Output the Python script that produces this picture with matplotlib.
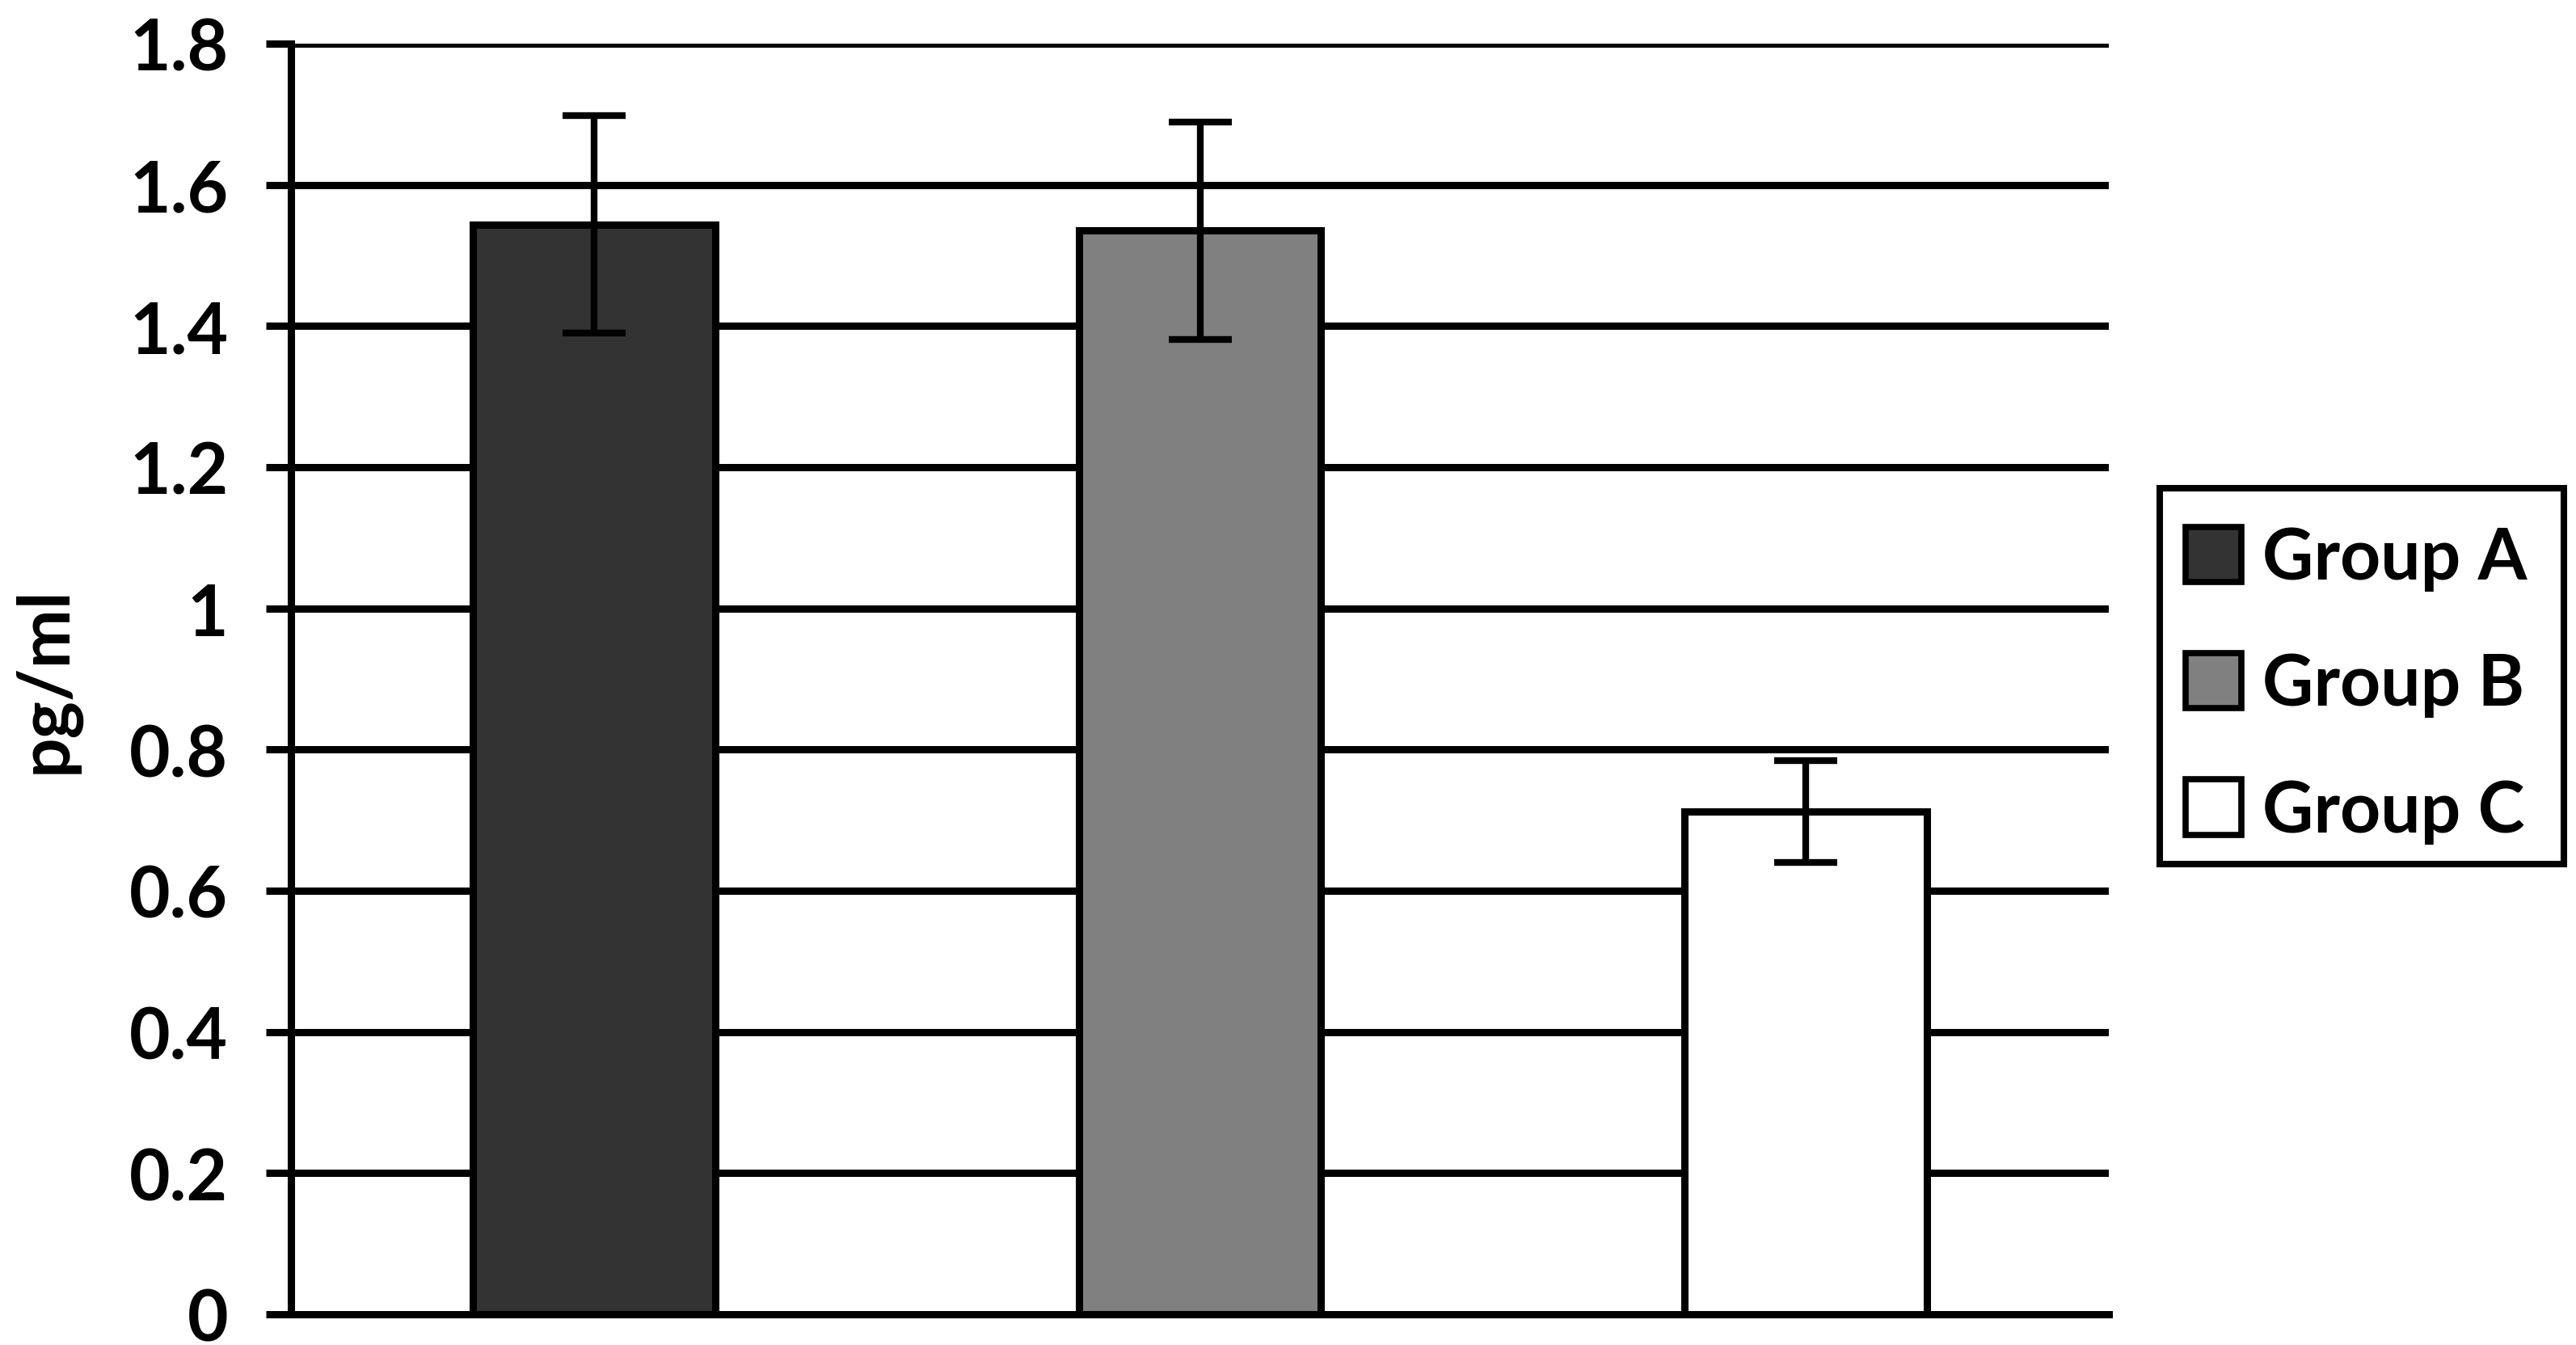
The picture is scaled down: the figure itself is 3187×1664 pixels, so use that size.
import matplotlib
matplotlib.use("Agg")
import matplotlib.pyplot as plt
from matplotlib.patches import Patch, Rectangle

groups = ["Group A", "Group B", "Group C"]
values = [1.544, 1.535, 0.712]
errors = [0.154, 0.154, 0.072]
colors = ["#333333", "#808080", "#ffffff"]
yticks = [0, 0.2, 0.4, 0.6, 0.8, 1.0, 1.2, 1.4, 1.6, 1.8]
ytick_labels = ["0", "0.2", "0.4", "0.6", "0.8", "1", "1.2", "1.4", "1.6", "1.8"]
ylabel = "pg/ml"

FONT = ["Lato", "DejaVu Sans"]
plt.rcParams["font.family"] = FONT
plt.rcParams["font.weight"] = "bold"

W, H = 3187, 1665
fig = plt.figure(figsize=(W / 100, H / 100), dpi=100)
left, right, bottom, top = 360 / W, 2609 / W, 1 - 1627 / H, 1 - 55 / H
ax = fig.add_axes([left, bottom, right - left, top - bottom])

LW = 6.5
x = range(len(groups))
ax.bar(x, values, width=0.4, color=colors, edgecolor="black", linewidth=LW, zorder=2)
ax.errorbar(x, values, yerr=errors, fmt="none", ecolor="black", elinewidth=6,
            capsize=28, capthick=6, zorder=3)

ax.set_xlim(-0.5, 2.5)
ax.set_ylim(0, 1.8)
ax.set_yticks(yticks)
ax.set_yticklabels(ytick_labels, fontsize=63, fontweight="bold")
ax.set_xticks([])
for y in yticks[1:]:
    ax.axhline(y, color="black", linewidth=LW, zorder=1, solid_capstyle="butt")

for s in ["top", "right"]:
    ax.spines[s].set_visible(False)
ax.spines["left"].set_linewidth(LW)
ax.spines["bottom"].set_linewidth(LW)
ax.spines["left"].set_zorder(4)
ax.tick_params(axis="y", length=22, width=LW, pad=34, direction="out")
ax.tick_params(axis="x", length=0)

fig.text(99 / W, 1 - 841 / H, ylabel, rotation=90, ha="right", va="center",
         fontsize=63, fontweight="bold")

# legend frame
fig.patches.append(Rectangle((2672 / W, 1 - 1070 / H), 500 / W, 465 / H,
                             transform=fig.transFigure, facecolor="white",
                             edgecolor="black", linewidth=5.8, zorder=5))
handles = [Patch(facecolor=c, edgecolor="black", linewidth=5.5, label=g)
           for g, c in zip(groups, colors)]
leg = fig.legend(handles=handles, loc="center left",
                 bbox_to_anchor=(2704 / W, 1 - 848 / H),
                 prop={"family": FONT, "weight": "bold", "size": 63},
                 frameon=False,
                 handlelength=0.79, handleheight=0.83, handletextpad=0.3,
                 labelspacing=0.86, borderpad=0, borderaxespad=0)
leg.set_zorder(6)

fig.savefig("out.png", dpi=100, facecolor="white")
